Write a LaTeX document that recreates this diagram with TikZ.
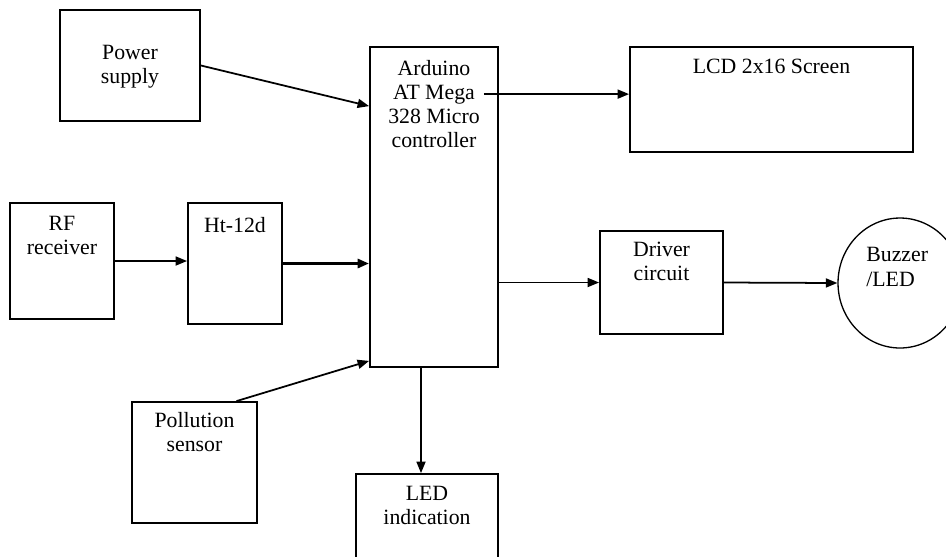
\documentclass[tikz,border=0pt]{standalone}
\usepackage{fontspec}
\setmainfont{Liberation Serif}
\usetikzlibrary{positioning, arrows.meta, shapes.geometric, calc}
\tikzset{
  blk/.style={draw, rectangle, line width=1.05pt, inner sep=0pt},
  rnd/.style={draw, ellipse, line width=0.75pt, inner sep=0pt},
  txt/.style={align=center, inner sep=0pt, font=\fontsize{12.4}{13.7}\selectfont},
  arr/.style={line width=1pt, -{Triangle[length=0.23cm, width=0.18cm]}}
}
\begin{document}
\begin{tikzpicture}[x=0.02cm, y=-0.02cm]
  \useasboundingbox (0,0) rectangle (946,556);
  \clip (0,0) rectangle (946,556);

  % Blocks
  \node[blk, minimum width=2.8cm, minimum height=2.22cm] (ps) at (130,65.5) {};
  \node[blk, minimum width=2.56cm, minimum height=6.4cm] (ard) at (434,207) {};
  \node[blk, minimum width=5.66cm, minimum height=2.1cm] (lcd) at (771.5,99.5) {};
  \node[blk, minimum width=2.08cm, minimum height=2.32cm] (rf) at (62,261) {};
  \node[blk, minimum width=1.88cm, minimum height=2.42cm] (ht) at (235,263.5) {};
  \node[blk, minimum width=2.46cm, minimum height=2.06cm] (drv) at (661.5,282.5) {};
  \node[blk, minimum width=2.5cm, minimum height=2.42cm] (pol) at (194.5,462.5) {};
  \node[blk, minimum width=2.84cm, minimum height=1.8cm] (led) at (427,519) {};
  \node[rnd, minimum width=2.48cm, minimum height=2.6cm] (buz) at (900,283) {};

  % Labels
  \node[txt, below=0.72cm of ps.north] {Power\\supply};
  \node[txt, below=0.28cm of ard.north] {Arduino\\AT Mega\\328 Micro\\controller};
  \node[txt, below=0.26cm of lcd.north] {LCD 2x16 Screen};
  \node[txt, below=0.28cm of rf.north] {RF\\receiver};
  \node[txt, below=0.30cm of ht.north] {Ht-12d};
  \node[txt, below=0.24cm of drv.north] {Driver\\circuit};
  \node[txt, below=0.22cm of pol.north] {Pollution\\sensor};
  \node[txt, below=0.26cm of led.north] {LED\\indication};
  \node[txt, align=left, anchor=north west] at ($(buz.north)+(-34,30)$) {Buzzer\\/LED};

  % Connections
  \coordinate (lcdin) at ($(ard.north east)+(-15,48)$);
  \coordinate (ledtop) at ($(ard.south)+(-13,0)$);
  \draw[arr] (ps.east) -- ($(ard.north west)+(0,60)$);
  \draw[arr] (lcdin) -- (lcd.west |- lcdin);
  \draw[arr] (rf.east) -- (ht.west |- rf.east);
  \draw[arr, line width=1.9pt] (ht.east) -- (ard.west |- ht.east);
  \draw[arr] (ard.east |- drv.west) -- (drv.west);
  \draw[arr] (drv.east) -- (buz.west);
  \draw[arr] ($(pol.north)+(42,0)$) -- ($(ard.south west)+(0,-7)$);
  \draw[arr] (ledtop) -- (led.north -| ledtop);
\end{tikzpicture}
\end{document}
